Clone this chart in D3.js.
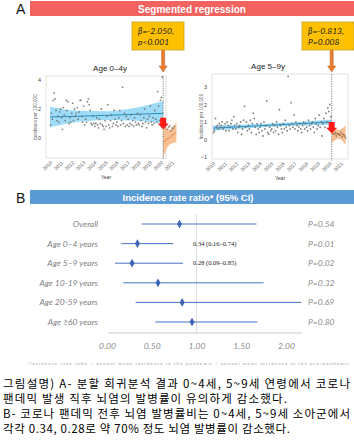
<!DOCTYPE html>
<html>
<head>
<meta charset="utf-8">
<script src="https://cdn.jsdelivr.net/npm/d3@7"></script>
<style>
  body { margin: 0; background: #fff; }
  svg { display: block; }
</style>
</head>
<body>
<svg id="chart" width="354" height="446"></svg>
<script>
// ---- panel A data (monthly incidence per 100,000) ----
const years = [2010, 2011, 2012, 2013, 2014, 2015, 2016, 2017, 2018, 2019, 2020, 2021];

const age04Pre = [
  0.9, 1.7, 1.3, 2.6, 3.1, 2.7, 1.9, 1.2, 1.5, 1.1, 1.8, 2.0,
  1.4, 0.6, 2.1, 1.6, 1.2, 2.6, 1.9, 2.5, 1.0, 1.4, 1.1, 1.7,
  2.4, 1.2, 2.0, 1.5, 1.7, 2.1, 1.3, 1.8, 2.6, 2.6, 1.5, 1.1,
  2.2, 0.9, 1.3, 1.1, 2.5, 2.7, 2.3, 1.9, 1.0, 0.9, 1.5, 1.0,
  0.8, 1.0, 1.4, 0.9, 0.7, 1.3, 1.0, 2.0, 0.9, 0.8, 0.6, 1.2,
  0.8, 1.5, 2.3, 0.9, 0.7, 1.2, 1.6, 0.8, 1.0, 1.9, 1.3, 0.9,
  1.1, 0.8, 1.4, 1.9, 0.9, 1.2, 3.5, 1.0, 1.7, 0.8, 1.5, 0.9,
  1.3, 0.8, 1.0, 1.6, 0.9, 1.2, 0.8, 1.4, 1.1, 0.9, 1.7, 1.0,
  0.9, 1.6, 1.2, 0.8, 1.0, 1.4, 2.0, 1.1, 0.7, 1.3, 1.0, 1.5,
  2.2, 1.1, 0.9, 1.4, 1.0, 1.9, 1.3, 1.1, 3.2, 2.2, 1.2, 2.6,
  2.8, 4.2
];
const age04Post = [0.8, 0.7, 0.9, 0.6, 0.75, 0.85, 0.5, 0.7, 0.65, 0.8];
const fit04Years = [2010, 2012.5, 2015, 2017.5, 2020.2];
const fit04Mid = [1.45, 1.5, 1.56, 1.63, 1.7];
const fit04Lo = [0.75, 1.1, 1.25, 1.2, 1.0];
const fit04Hi = [2.15, 1.88, 1.85, 2.05, 2.55];
const post04Years = [2020.2, 2020.8, 2021.4];
const post04Mid = [-0.3, 0.05, 0.4];
const post04Lo = [-1.4, -0.45, -0.3];
const post04Hi = [0.9, 0.55, 1.1];

const age59Pre = [
  0.4, 0.5, 1.2, 0.7, 0.8, 0.6, 0.9, 0.7, 0.8, 1.0, 0.6, 0.7,
  0.9, 0.5, 1.0, 0.8, 0.5, 0.7, 0.9, 1.1, 0.6, 1.3, 0.8, 0.6,
  0.9, 0.4, 0.7, 0.8, 1.0, 0.3, 0.6, 1.1, 1.9, 0.7, 1.0, 0.5,
  0.8, 0.6, 1.1, 0.4, 0.9, 1.5, 1.2, 0.7, 0.3, 0.9, 0.6, 0.4,
  0.7, 0.9, 0.5, 0.2, 1.0, 0.6, 0.8, 2.2, 0.4, 0.3, 0.7, 0.5,
  0.6, 0.9, 0.4, 0.8, 0.5, 1.0, 0.7, 0.3, 1.7, 0.8, 0.6, 0.4,
  0.9, 0.6, 1.1, 0.7, 0.5, 3.6, 0.8, 0.6, 2.1, 0.9, 0.7, 1.4,
  0.6, 1.0, 0.8, 0.5, 0.7, 0.9, 0.6, 0.4, 0.8, 1.0, 0.6, 0.9,
  0.7, 0.5, 1.1, 0.8, 0.6, 0.9, 1.0, 0.7, 0.4, 1.2, 0.9, 0.6,
  0.8, 1.4, 0.7, 1.0, 0.2, 0.9, 1.2, 0.7, 1.5, 1.0, 1.8, 1.6,
  2.0, 1.3
];
const age59Post = [0.5, 0.3, 0.4, 0.2, 0.35, 0.3, 0.25, 0.4, 0.15, 0.3, 0.2, 0.1];
const fit59Years = [2010, 2015, 2020.2];
const fit59Mid = [0.65, 0.82, 1.0];
const fit59Lo = [0.5, 0.73, 0.85];
const fit59Hi = [0.8, 0.91, 1.15];
const post59Years = [2020.2, 2020.8, 2021.4];
const post59Mid = [0.35, 0.3, 0.25];
const post59Lo = [-0.2, 0.05, -0.3];
const post59Hi = [0.95, 0.55, 0.8];

// ---- panel B data ----
const groups = ["Overall", "Age 0–4 years", "Age 5–9 years", "Age 10-19 years", "Age 20-59 years", "Age ≥60 years"];
const irr = [0.81, 0.34, 0.28, 0.57, 0.84, 0.95];
const irrLo = [0.39, 0.16, 0.09, 0.18, 0.32, 0.54];
const irrHi = [1.67, 0.74, 0.85, 1.75, 2.17, 1.68];
const pLabels = ["P=0.54", "P=0.01", "P=0.02", "P=0.32", "P=0.69", "P=0.80"];
const ciLabels = ["", "0.34 (0.16–0.74)", "0.28 (0.09–0.85)", "", "", ""];
const irrTicks = [0, 0.5, 1, 1.5, 2];

const svg = d3.select("#chart");
const sans = "'Liberation Sans', Arial, sans-serif";
const cal = "Lato, 'Open Sans', sans-serif";

// ---------- header A ----------
svg.append("text").attr("x", 16).attr("y", 14).text("A")
  .style("font-family", sans).style("font-size", "14px").attr("fill", "#111");
svg.append("rect").attr("x", 30).attr("y", 1).attr("width", 324).attr("height", 15).attr("fill", "#f2625f");
svg.append("text").attr("x", 192).attr("y", 12.5).attr("text-anchor", "middle")
  .style("font-family", sans).style("font-size", "10px").style("font-weight", "bold")
  .attr("fill", "#fff").text("Segmented regression");

function panel(cfg) {
  const g = svg.append("g");
  const x = cfg.x, y = cfg.y;
  const monthX = i => 2010 + (i + 0.5) / 12;

  g.append("rect").attr("x", cfg.frame[0]).attr("y", cfg.frame[1])
    .attr("width", cfg.frame[2] - cfg.frame[0]).attr("height", cfg.frame[3] - cfg.frame[1])
    .attr("fill", "#fff").attr("stroke", "#d9d9d9").attr("stroke-width", 0.8);

  // pre band + fit
  const band = d3.area().x(d => x(d[0])).y0(d => y(d[1])).y1(d => y(d[2])).curve(d3.curveMonotoneX);
  const line = d3.line().x(d => x(d[0])).y(d => y(d[1])).curve(d3.curveMonotoneX);
  const pre = cfg.fitYears.map((t, i) => [t, cfg.fitLo[i], cfg.fitHi[i], cfg.fitMid[i]]);
  g.append("path").attr("d", band(pre)).attr("fill", "#8dd5f4").attr("opacity", 0.85);
  g.append("path").attr("d", line(pre.map(d => [d[0], d[3]]))).attr("fill", "none")
    .attr("stroke", "#2a8fbf").attr("stroke-width", 1);

  const post = cfg.postYears.map((t, i) => [t, cfg.postLo[i], cfg.postHi[i], cfg.postMid[i]]);
  g.append("path").attr("d", band(post)).attr("fill", "#f6b98a").attr("opacity", 0.9);
  g.append("path").attr("d", line(post.map(d => [d[0], d[3]]))).attr("fill", "none")
    .attr("stroke", "#e0773a").attr("stroke-width", 0.8);

  g.selectAll(".pt").data(cfg.pre).enter().append("circle")
    .attr("cx", (d, i) => x(monthX(i))).attr("cy", d => y(d))
    .attr("r", 0.9).attr("fill", "#6f6f6f").attr("opacity", 0.85);
  g.selectAll(".pp").data(cfg.post).enter().append("circle")
    .attr("cx", (d, i) => x(2020.3 + i * 0.1)).attr("cy", d => y(d))
    .attr("r", 0.9).attr("fill", "#8a6a55").attr("opacity", 0.8);

  // change point
  g.append("line").attr("x1", x(2020.2)).attr("x2", x(2020.2))
    .attr("y1", cfg.frame[1]).attr("y2", cfg.frame[3] + 2)
    .attr("stroke", "#555").attr("stroke-width", 0.7).attr("stroke-dasharray", "1.2,1.2");

  // red block arrow
  const ax = x(cfg.arrow[0]), a0 = y(cfg.arrow[1]), a1 = y(cfg.arrow[2]);
  const h = a1 - a0;
  g.append("path").attr("fill", "#ff1a1a")
    .attr("d", `M${ax - 3},${a0}H${ax + 3}V${a0 + h * 0.5}H${ax + 5.5}L${ax},${a1}L${ax - 5.5},${a0 + h * 0.5}H${ax - 3}Z`);

  // axes
  const ya = g.append("g").attr("transform", `translate(${cfg.frame[0] - 2},0)`)
    .call(d3.axisLeft(y).tickValues(cfg.yTicks).tickSize(0).tickFormat(d3.format("d")));
  ya.select(".domain").remove();
  ya.selectAll("text").style("font-family", sans).style("font-size", "5.5px").attr("fill", "#444");

  const xa = g.append("g").attr("transform", `translate(0,${cfg.frame[3] + 3})`)
    .call(d3.axisBottom(x).tickValues(years).tickSize(0).tickFormat(d3.format("d")));
  xa.select(".domain").remove();
  xa.selectAll("text").style("font-family", sans).style("font-size", "5px").attr("fill", "#555")
    .attr("text-anchor", "end").attr("dy", 0).attr("y", 0)
    .attr("transform", "translate(2,2) rotate(-45)");

  g.append("text").attr("x", (cfg.frame[0] + cfg.frame[2]) / 2).attr("y", cfg.frame[3] + 21)
    .attr("text-anchor", "middle").style("font-family", sans).style("font-size", "5px")
    .attr("fill", "#444").text("Year");
  g.append("text").attr("transform", `translate(${cfg.frame[0] - 9},${(cfg.frame[1] + cfg.frame[3]) / 2}) rotate(-90)`)
    .attr("text-anchor", "middle").style("font-family", sans).style("font-size", "4.6px")
    .attr("fill", "#555").text("Incidence per 100,000");
  g.append("text").attr("x", cfg.titleX).attr("y", cfg.frame[1] - 5).attr("text-anchor", "middle")
    .style("font-family", sans).style("font-size", "8px").attr("fill", "#222").text(cfg.title);

  // callout box + arrow
  const bx = x(2020.2);
  g.append("path").attr("fill", "#ed7d31").attr("stroke", "#b05a1c").attr("stroke-width", 0.5)
    .attr("d", `M${bx - 1.5},50H${bx + 1.5}V66H${bx + 4}L${bx},72L${bx - 4},66H${bx - 1.5}Z`);
  g.append("rect").attr("x", cfg.boxX).attr("y", 22).attr("width", 52).attr("height", 28)
    .attr("fill", "#ffc000").attr("stroke", "#c9a227").attr("stroke-width", 0.8);
  g.append("text").attr("x", cfg.boxX + 6).attr("y", 34).style("font-family", cal)
    .style("font-size", "8.5px").style("font-style", "italic").attr("fill", "#222").text(cfg.beta);
  g.append("text").attr("x", cfg.boxX + 6).attr("y", 45).style("font-family", cal)
    .style("font-size", "8.5px").style("font-style", "italic").attr("fill", "#222").text(cfg.p);
}

panel({
  x: d3.scaleLinear([2010, 2021], [50, 172]),
  y: d3.scaleLinear([0, 4], [138, 80]),
  frame: [46, 76, 166, 158], yTicks: [0, 2, 4], title: "Age 0–4y", titleX: 110,
  pre: age04Pre, post: age04Post,
  fitYears: fit04Years, fitMid: fit04Mid, fitLo: fit04Lo, fitHi: fit04Hi,
  postYears: post04Years, postMid: post04Mid, postLo: post04Lo, postHi: post04Hi,
  arrow: [2020.2, 1.4, 0.6], boxX: 132, beta: "β=-2.050,", p: "p<0.001"
});
panel({
  x: d3.scaleLinear([2010, 2021], [213, 341]),
  y: d3.scaleLinear([-1, 3], [157, 87]),
  frame: [212, 74, 348, 159], yTicks: [-1, 0, 1, 2, 3], title: "Age 5–9y", titleX: 268,
  pre: age59Pre, post: age59Post,
  fitYears: fit59Years, fitMid: fit59Mid, fitLo: fit59Lo, fitHi: fit59Hi,
  postYears: post59Years, postMid: post59Mid, postLo: post59Lo, postHi: post59Hi,
  arrow: [2020.2, 1.0, 0.35], boxX: 302, beta: "β=-0.813,", p: "P=0.008"
});

// ---------- header B ----------
svg.append("text").attr("x", 16).attr("y", 203).text("B")
  .style("font-family", sans).style("font-size", "14px").attr("fill", "#111");
svg.append("rect").attr("x", 30).attr("y", 190).attr("width", 324).attr("height", 14).attr("fill", "#5b9bd5");
svg.append("text").attr("x", 188).attr("y", 201).attr("text-anchor", "middle")
  .style("font-family", sans).style("font-size", "9.5px").style("font-weight", "bold")
  .attr("fill", "#fff").text("Incidence rate ratio* (95% CI)");

// ---------- forest plot ----------
const xF = d3.scaleLinear([0, 2], [107, 286]);
const yF = d3.scalePoint(groups, [224, 322]);

svg.append("line").attr("x1", xF(1)).attr("x2", xF(1)).attr("y1", 214).attr("y2", 333)
  .attr("stroke", "#d9d9d9").attr("stroke-width", 0.8);
svg.append("line").attr("x1", 108).attr("x2", 302).attr("y1", 333).attr("y2", 333)
  .attr("stroke", "#bfbfbf").attr("stroke-width", 0.8);

const fax = svg.append("g").attr("transform", "translate(0,340)")
  .call(d3.axisBottom(xF).tickValues(irrTicks).tickSize(0).tickFormat(d3.format(".2f")));
fax.select(".domain").remove();
fax.selectAll("text").style("font-family", cal).style("font-size", "8.5px")
  .style("font-style", "italic").attr("fill", "#8c8c8c");

const rows = svg.selectAll(".row").data(groups).enter().append("g")
  .attr("transform", d => `translate(0,${yF(d)})`);
rows.append("line").attr("x1", (d, i) => xF(irrLo[i])).attr("x2", (d, i) => xF(irrHi[i]))
  .attr("stroke", "#4472c4").attr("stroke-width", 1);
rows.append("path").attr("d", d3.symbol(d3.symbolDiamond, 22)())
  .attr("transform", (d, i) => `translate(${xF(irr[i])},0)`).attr("fill", "#3f66b5");
rows.append("text").attr("x", 98).attr("dy", "0.35em").attr("text-anchor", "end")
  .style("font-family", cal).style("font-size", "8.5px").style("font-style", "italic")
  .attr("fill", "#7f7f7f").text(d => d);
rows.append("text").attr("x", 308).attr("dy", "0.35em")
  .style("font-family", cal).style("font-size", "8.5px").style("font-style", "italic")
  .attr("fill", "#8c8c8c").text((d, i) => pLabels[i]);
rows.append("text").attr("x", 193).attr("dy", "0.35em")
  .style("font-family", "'Liberation Serif', 'Times New Roman', serif").style("font-size", "6.5px")
  .attr("fill", "#222").text((d, i) => ciLabels[i]);

svg.append("text").attr("x", 27).attr("y", 365).attr("textLength", 322)
  .style("font-family", cal).style("font-size", "4.6px").style("font-style", "italic")
  .attr("fill", "#9a9a9a")
  .text("*Incidence rate ratio = annual mean incidence in the pandemic / annual mean incidence in the pre-pandemic");

// ---------- caption ----------
const caption = [
  ["그림설명) A- 분할 회귀분석 결과 0~4세, 5~9세 연령에서 코로나", 388, 347],
  ["팬데믹 발생 직후 뇌염의 발병률이 유의하게 감소했다.", 403, 284],
  ["B- 코로나 팬데믹 전후 뇌염 발병률비는 0~4세, 5~9세 소아군에서", 418, 347],
  ["각각 0.34, 0.28로 약 70% 정도 뇌염 발병률이 감소했다.", 433, 287]
];
caption.forEach(([t, yy, len]) => {
  svg.append("text").attr("x", 3).attr("y", yy)
    .style("font-family", "'Noto Sans CJK KR', sans-serif").style("font-size", "11.5px")
    .attr("fill", "#000").attr("textLength", len).attr("lengthAdjust", "spacing").text(t);
});
</script>
</body>
</html>
